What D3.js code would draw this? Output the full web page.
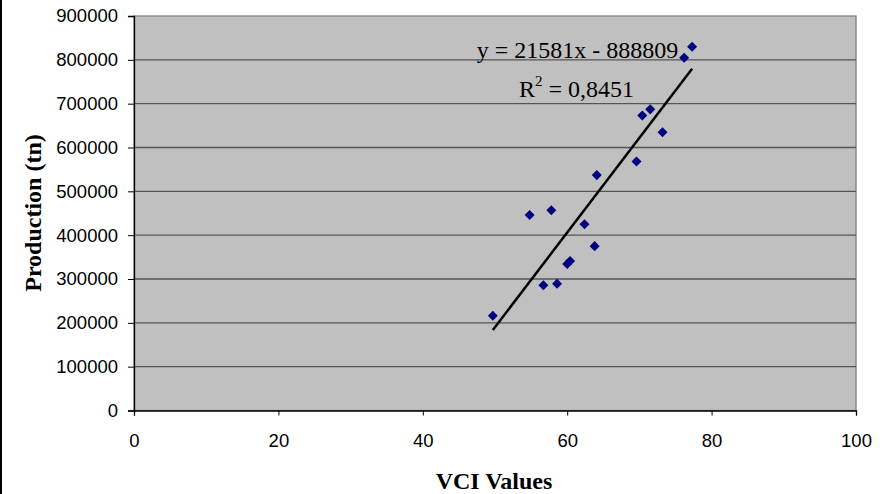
<!DOCTYPE html>
<html>
<head>
<meta charset="utf-8">
<script src="https://cdn.jsdelivr.net/npm/d3@7"></script>
<style>
  body { margin: 0; background: #fff; }
  .tick text { font-family: Arial, "Liberation Sans", sans-serif; font-size: 18.5px; fill: #000; }
  .label { font-family: "Times New Roman", "Liberation Serif", serif; font-weight: bold; font-size: 24px; }
  .eq { font-family: "Times New Roman", "Liberation Serif", serif; font-size: 24px; }
</style>
</head>
<body>
<svg id="chart" width="886" height="494"></svg>
<script>
// VCI values (x) and production in tonnes (y)
const vci = [49.7, 54.8, 57.8, 56.7, 58.6, 60.0, 60.4, 62.4, 63.8, 64.1, 69.6, 70.4, 71.5, 73.2, 76.2, 77.3];
const production = [216000, 446000, 457000, 286000, 289000, 334000, 341000, 425000, 375000, 537000, 568000, 673000, 687000, 635000, 805000, 830000];
const xTicks = [0, 20, 40, 60, 80, 100];
const yTicks = [0, 100000, 200000, 300000, 400000, 500000, 600000, 700000, 800000, 900000];
const slope = 21581, intercept = -888809, r2 = '0,8451';

const sample = vci.map((v, i) => ({ x: v, y: production[i] }));

const svg = d3.select('#chart');
const plotLeft = 134, plotTop = 16, plotRight = 856, plotBottom = 410.5;

const xScale = d3.scaleLinear().domain([0, 100]).range([plotLeft, plotRight]);
const yScale = d3.scaleLinear().domain([0, 900000]).range([plotBottom, plotTop]);

// left frame line of the chart object
svg.append('line')
  .attr('x1', 1).attr('x2', 1).attr('y1', 0).attr('y2', 494)
  .attr('stroke', '#000').attr('stroke-width', 2);

// plot area
svg.append('rect')
  .attr('x', plotLeft).attr('y', plotTop)
  .attr('width', plotRight - plotLeft).attr('height', plotBottom - plotTop)
  .attr('fill', '#c0c0c0')
  .attr('stroke', '#808080').attr('stroke-width', 1.3);

// horizontal grid lines
svg.append('g')
  .selectAll('line')
  .data(yTicks.slice(1, -1))
  .enter()
  .append('line')
  .attr('x1', plotLeft).attr('x2', plotRight)
  .attr('y1', d => yScale(d)).attr('y2', d => yScale(d))
  .attr('stroke', '#555').attr('stroke-width', 1.3);

// axes
const yAxis = svg.append('g')
  .attr('transform', `translate(${plotLeft},0)`)
  .call(d3.axisLeft(yScale).tickValues(yTicks).tickFormat(d3.format('d')).tickSize(6).tickPadding(10));
const xAxis = svg.append('g')
  .attr('transform', `translate(0,${plotBottom})`)
  .call(d3.axisBottom(xScale).tickValues(xTicks).tickSize(5).tickPadding(18));

[yAxis, xAxis].forEach(a => {
  a.select('.domain').attr('stroke', '#000').attr('stroke-width', 1.3);
  a.selectAll('.tick line').attr('stroke', '#000');
});

// trend line over the data range
const xr = d3.extent(vci);
svg.append('line')
  .attr('x1', xScale(xr[0])).attr('y1', yScale(slope * xr[0] + intercept))
  .attr('x2', xScale(xr[1])).attr('y2', yScale(slope * xr[1] + intercept))
  .attr('stroke', '#000').attr('stroke-width', 2.5);

// points
svg.append('g')
  .selectAll('path')
  .data(sample)
  .enter()
  .append('path')
  .attr('d', d3.symbol().type(d3.symbolDiamond2).size(64))
  .attr('transform', d => `translate(${xScale(d.x)},${yScale(d.y)})`)
  .attr('fill', '#000080');

// equation
svg.append('text')
  .attr('class', 'eq')
  .attr('x', 577.5).attr('y', 58)
  .attr('text-anchor', 'middle')
  .text(`y = ${slope}x - ${-intercept}`);

const r2t = svg.append('text')
  .attr('class', 'eq')
  .attr('x', 576.5).attr('y', 97)
  .attr('text-anchor', 'middle');
r2t.append('tspan').text('R');
r2t.append('tspan').attr('dy', -11).attr('font-size', 15).text('2');
r2t.append('tspan').attr('dy', 11).text(` = ${r2}`);

// axis titles
svg.append('text')
  .attr('class', 'label')
  .attr('transform', `translate(41, 213) rotate(-90)`)
  .attr('text-anchor', 'middle')
  .text('Production (tn)');

svg.append('text')
  .attr('class', 'label')
  .attr('x', 494).attr('y', 489)
  .attr('text-anchor', 'middle')
  .text('VCI Values');
</script>
</body>
</html>
